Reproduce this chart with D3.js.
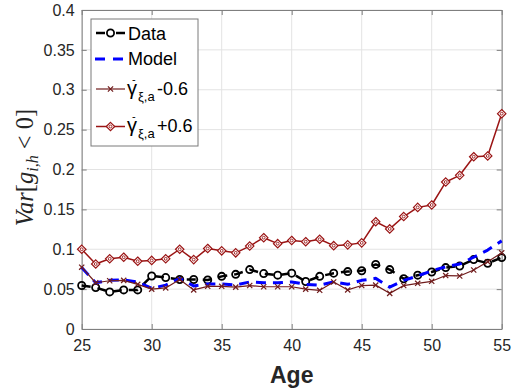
<!DOCTYPE html>
<html>
<head>
<meta charset="utf-8">
<script src="https://cdn.jsdelivr.net/npm/d3@7"></script>
<style>
	body { margin: 0; background: #fff; }
	svg { display: block; }
	text { font-family: "Liberation Sans", Arial, sans-serif; }
</style>
</head>
<body>
<div id="chart"></div>
<script>
var ages = d3.range(25, 56);

var dataVals = [0.0545, 0.052, 0.0465, 0.049, 0.049, 0.0665, 0.0645, 0.062, 0.062, 0.0615,
	0.066, 0.0685, 0.0745, 0.0695, 0.0675, 0.070, 0.0595, 0.066, 0.070, 0.072,
	0.073, 0.081, 0.0745, 0.063, 0.0675, 0.0715, 0.077, 0.079, 0.087, 0.0825, 0.0895];

var modelVals = [0.077, 0.058, 0.061, 0.0615, 0.059, 0.051, 0.055, 0.0635, 0.054, 0.0565,
	0.0565, 0.055, 0.059, 0.058, 0.058, 0.059, 0.056, 0.055, 0.059, 0.056,
	0.061, 0.0635, 0.0525, 0.061, 0.0665, 0.073, 0.078, 0.0815, 0.090, 0.099, 0.1105];

var minusVals = [0.0775, 0.058, 0.0605, 0.061, 0.056, 0.050, 0.0515, 0.062, 0.049, 0.0535,
	0.0535, 0.0525, 0.0545, 0.053, 0.053, 0.053, 0.050, 0.0485, 0.059, 0.049,
	0.0545, 0.055, 0.0447, 0.0545, 0.0573, 0.0598, 0.067, 0.0665, 0.074, 0.0844, 0.0955];

var plusVals = [0.100, 0.0815, 0.088, 0.090, 0.085, 0.086, 0.088, 0.100, 0.087, 0.101,
	0.098, 0.0955, 0.104, 0.1145, 0.107, 0.111, 0.1095, 0.1125, 0.1045, 0.1055,
	0.108, 0.1345, 0.1255, 0.141, 0.1525, 0.1555, 0.1843, 0.1927, 0.216, 0.217, 0.27];

var xTicks = [25, 30, 35, 40, 45, 50, 55];
var yTicks = [0, 0.05, 0.1, 0.15, 0.2, 0.25, 0.3, 0.35, 0.4];

var W = 516, H = 390;
var pLeft = 81.7, pRight = 501.7, pTop = 10, pBottom = 329;

var svg = d3.select('#chart').append('svg').attr('width', W).attr('height', H);
svg.append('rect').attr('width', W).attr('height', H).attr('fill', '#fff');

var x = d3.scaleLinear().domain([25, 55]).range([pLeft, pRight]);
var y = d3.scaleLinear().domain([0, 0.4]).range([pBottom, pTop]);

var axisCol = '#7f7f7f';
var textCol = '#262626';

// grid
var grid = svg.append('g');
grid.selectAll('.gx').data(xTicks).enter().append('line')
	.attr('x1', function(d) { return x(d); }).attr('x2', function(d) { return x(d); })
	.attr('y1', pTop).attr('y2', pBottom)
	.attr('stroke', '#e3e3e3').attr('stroke-width', 1);
grid.selectAll('.gy').data(yTicks).enter().append('line')
	.attr('y1', function(d) { return y(d); }).attr('y2', function(d) { return y(d); })
	.attr('x1', pLeft).attr('x2', pRight)
	.attr('stroke', '#e3e3e3').attr('stroke-width', 1);

function fmt(d) { return String(+d.toFixed(2)); }

function styleAxis(g) {
	g.select('.domain').attr('stroke', axisCol);
	g.selectAll('.tick line').attr('stroke', axisCol);
	g.selectAll('.tick text').attr('fill', textCol)
		.style('font-family', '"Liberation Sans", Arial, sans-serif').style('font-size', '16px');
}

svg.append('g').attr('transform', 'translate(0,' + pBottom + ')')
	.call(d3.axisBottom(x).tickValues(xTicks).tickSizeInner(-5).tickSizeOuter(0).tickPadding(11).tickFormat(fmt))
	.call(styleAxis);
svg.append('g').attr('transform', 'translate(' + pLeft + ',0)')
	.call(d3.axisLeft(y).tickValues(yTicks).tickSizeInner(-5).tickSizeOuter(0).tickPadding(7).tickFormat(fmt))
	.call(styleAxis);
svg.append('g').attr('transform', 'translate(0,' + pTop + ')')
	.call(d3.axisTop(x).tickValues(xTicks).tickSizeInner(-5).tickSizeOuter(0).tickFormat(''))
	.call(styleAxis);
svg.append('g').attr('transform', 'translate(' + pRight + ',0)')
	.call(d3.axisRight(y).tickValues(yTicks).tickSizeInner(-5).tickSizeOuter(0).tickFormat(''))
	.call(styleAxis);

// series
var series = [
	{ name: 'data', vals: dataVals, color: '#000', width: 2.5, dash: '9,7', marker: 'circle' },
	{ name: 'model', vals: modelVals, color: '#0000ff', width: 3, dash: '10,7', marker: null },
	{ name: 'minus', vals: minusVals, color: '#701c1c', width: 1.2, dash: null, marker: 'x' },
	{ name: 'plus', vals: plusVals, color: '#9a1414', width: 1.5, dash: null, marker: 'diamond' }
];

var line = d3.line()
	.x(function(d, i) { return x(ages[i]); })
	.y(function(d) { return y(d); });

var diamond = 'M0,-4.2L4.2,0L0,4.2L-4.2,0Z';
var cross = 'M-2.6,-2.6L2.6,2.6M-2.6,2.6L2.6,-2.6';

function drawMarker(g, type, color, px, py) {
	if (type === 'circle') {
		g.append('circle').attr('cx', px).attr('cy', py).attr('r', 3.6)
			.attr('fill', 'none').attr('stroke', color).attr('stroke-width', 1.8);
	} else if (type === 'x') {
		g.append('path').attr('d', cross).attr('transform', 'translate(' + px + ',' + py + ')')
			.attr('fill', 'none').attr('stroke', color).attr('stroke-width', 1.2);
	} else if (type === 'diamond') {
		g.append('path').attr('d', diamond).attr('transform', 'translate(' + px + ',' + py + ')')
			.attr('fill', '#fff').attr('stroke', color).attr('stroke-width', 1.2);
		g.append('circle').attr('cx', px).attr('cy', py).attr('r', 1.4)
			.attr('fill', 'none').attr('stroke', color).attr('stroke-width', 0.9);
	}
}

var plotG = svg.append('g');
series.forEach(function(s) {
	var g = plotG.append('g').attr('id', s.name);
	g.append('path')
		.attr('d', line(s.vals))
		.attr('fill', 'none')
		.attr('stroke', s.color)
		.attr('stroke-width', s.width)
		.attr('stroke-dasharray', s.dash)
		.attr('stroke-linejoin', 'round');
	if (s.marker) {
		s.vals.forEach(function(v, i) {
			drawMarker(g, s.marker, s.color, x(ages[i]), y(v));
		});
	}
});

// legend
var legend = svg.append('g');
legend.append('rect').attr('x', 91).attr('y', 19).attr('width', 107).attr('height', 127)
	.attr('fill', '#fff').attr('stroke', '#7a7a7a').attr('stroke-width', 1);

var rows = [
	{ s: series[0], ly: 33, dash: '9,11' },
	{ s: series[1], ly: 59, dash: '10,8' },
	{ s: series[2], ly: 89, dash: null },
	{ s: series[3], ly: 126.5, dash: null }
];

rows.forEach(function(r) {
	legend.append('line').attr('x1', r.s.marker ? 96 : 95).attr('x2', r.s.marker ? 125 : 123)
		.attr('y1', r.ly).attr('y2', r.ly)
		.attr('stroke', r.s.color).attr('stroke-width', r.s.width)
		.attr('stroke-dasharray', r.dash);
	if (r.s.marker) drawMarker(legend, r.s.marker, r.s.color, 110.5, r.ly);
});

legend.append('text').attr('x', 128).attr('y', 40).attr('font-size', 18).attr('fill', '#000').text('Data');
legend.append('text').attr('x', 128).attr('y', 65).attr('font-size', 18).attr('fill', '#000').text('Model');

[{ ty: 95, val: '-0.6' }, { ty: 131.5, val: '+0.6' }].forEach(function(r) {
	var t = legend.append('text').attr('font-size', 18).attr('fill', '#000');
	t.append('tspan').attr('x', 127).attr('y', r.ty).attr('font-size', 20).text('γ');
	t.append('tspan').attr('x', 132).attr('y', r.ty - 12).attr('font-size', 11).text('-');
	t.append('tspan').attr('x', 138).attr('y', r.ty + 6).attr('font-size', 13).text('ξ,a');
	t.append('tspan').attr('x', 157).attr('y', r.ty).text(r.val);
});

// axis labels
svg.append('text')
	.attr('x', (pLeft + pRight) / 2).attr('y', 383)
	.attr('text-anchor', 'middle')
	.attr('font-size', 23).attr('font-weight', 'bold').attr('fill', textCol)
	.text('Age');

var yl = svg.append('text')
	.attr('transform', 'translate(33,' + ((pTop + pBottom) / 2 - 2) + ') rotate(-90)')
	.attr('text-anchor', 'middle')
	.attr('font-size', 24.5).attr('fill', textCol)
	.style('font-family', '"Liberation Serif", "DejaVu Serif", serif');
yl.append('tspan').attr('font-style', 'italic').text('Var');
yl.append('tspan').text('[');
yl.append('tspan').attr('font-style', 'italic').text('g');
yl.append('tspan').attr('font-style', 'italic').attr('font-size', 16).attr('dy', 5).text('i,h');
yl.append('tspan').attr('dy', -5).text(' < 0]');
</script>
</body>
</html>
